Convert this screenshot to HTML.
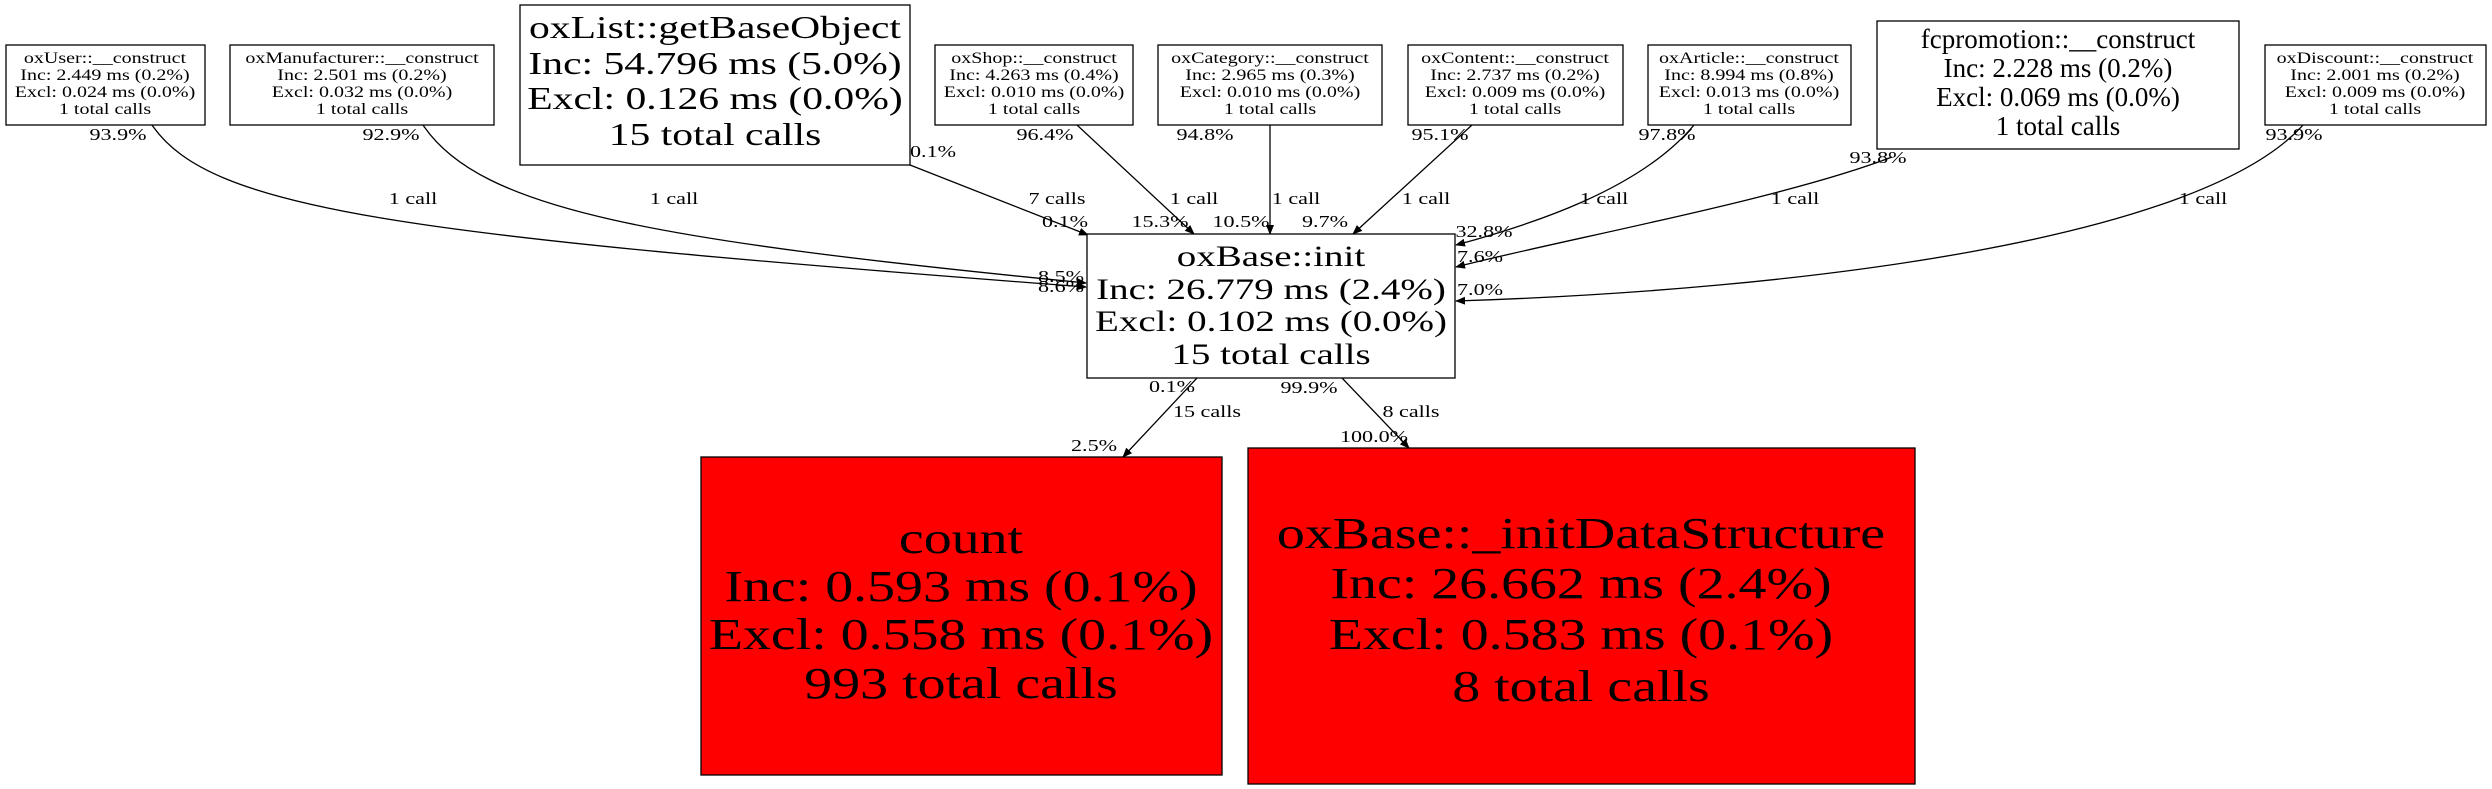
<!DOCTYPE html>
<html><head><meta charset="utf-8"><style>
html,body{margin:0;padding:0;background:#fff;}
svg{display:block;}
text{font-family:"Liberation Serif",serif;fill:#000;}
</style></head><body>
<svg width="2492" height="789" viewBox="0 0 2492 789" xmlns="http://www.w3.org/2000/svg">
<defs><marker id="a" markerWidth="10" markerHeight="8" refX="9" refY="4" orient="auto" markerUnits="userSpaceOnUse"><path d="M0,0 L10,4 L0,8 z" fill="#000"/></marker></defs>
<g fill="none" stroke="#000" stroke-width="1.3" marker-end="url(#a)">
<path d="M152,125 C210,210 400,235 1086,287"/>
<path d="M423,125 C480,210 650,240 1086,283"/>
<path d="M910,165 L1088,235"/>
<path d="M1077,125 L1194,234"/>
<path d="M1270,125 L1270,234"/>
<path d="M1472,125 L1353,234"/>
<path d="M1694,125 C1640,190 1530,225 1456,245"/>
<path d="M1892,157 C1780,200 1560,240 1456,267"/>
<path d="M2303,125 C2200,240 1800,290 1456,301"/>
<path d="M1197,378 L1123,457"/>
<path d="M1342,378 L1409,448"/>
</g>
<g stroke="#000" stroke-width="1.3" fill="#fff">
<rect x="6" y="45" width="199" height="80"/>
<rect x="230" y="45" width="264" height="80"/>
<rect x="520" y="5" width="390" height="160"/>
<rect x="935" y="45" width="198" height="80"/>
<rect x="1158" y="45" width="224" height="80"/>
<rect x="1408" y="45" width="215" height="80"/>
<rect x="1648" y="45" width="203" height="80"/>
<rect x="1877" y="21" width="362" height="128"/>
<rect x="2265" y="45" width="221" height="80"/>
<rect x="1087" y="234" width="368" height="144"/>
<rect x="701" y="457" width="521" height="318" fill="#ff0000"/>
<rect x="1248" y="448" width="667" height="336" fill="#ff0000"/>
</g>
<g text-anchor="middle" font-size="16">
<g transform="translate(105 0) scale(1.25 1)"><text y="63">oxUser::__construct</text><text y="80">Inc: 2.449 ms (0.2%)</text><text y="97">Excl: 0.024 ms (0.0%)</text><text y="114">1 total calls</text></g>
<g transform="translate(362 0) scale(1.25 1)"><text y="63">oxManufacturer::__construct</text><text y="80">Inc: 2.501 ms (0.2%)</text><text y="97">Excl: 0.032 ms (0.0%)</text><text y="114">1 total calls</text></g>
<g transform="translate(1034 0) scale(1.25 1)"><text y="63">oxShop::__construct</text><text y="80">Inc: 4.263 ms (0.4%)</text><text y="97">Excl: 0.010 ms (0.0%)</text><text y="114">1 total calls</text></g>
<g transform="translate(1270 0) scale(1.25 1)"><text y="63">oxCategory::__construct</text><text y="80">Inc: 2.965 ms (0.3%)</text><text y="97">Excl: 0.010 ms (0.0%)</text><text y="114">1 total calls</text></g>
<g transform="translate(1515 0) scale(1.25 1)"><text y="63">oxContent::__construct</text><text y="80">Inc: 2.737 ms (0.2%)</text><text y="97">Excl: 0.009 ms (0.0%)</text><text y="114">1 total calls</text></g>
<g transform="translate(1749 0) scale(1.25 1)"><text y="63">oxArticle::__construct</text><text y="80">Inc: 8.994 ms (0.8%)</text><text y="97">Excl: 0.013 ms (0.0%)</text><text y="114">1 total calls</text></g>
<g transform="translate(2375 0) scale(1.25 1)"><text y="63">oxDiscount::__construct</text><text y="80">Inc: 2.001 ms (0.2%)</text><text y="97">Excl: 0.009 ms (0.0%)</text><text y="114">1 total calls</text></g>
</g>
<g text-anchor="middle" font-size="32" transform="translate(715 0) scale(1.3 1)">
<text y="38">oxList::getBaseObject</text><text y="74">Inc: 54.796 ms (5.0%)</text><text y="109">Excl: 0.126 ms (0.0%)</text><text y="145">15 total calls</text>
</g>
<g text-anchor="middle" font-size="27" transform="translate(2058 0)">
<text y="48">fcpromotion::__construct</text><text y="77">Inc: 2.228 ms (0.2%)</text><text y="106">Excl: 0.069 ms (0.0%)</text><text y="135">1 total calls</text>
</g>
<g text-anchor="middle" font-size="30" transform="translate(1271 0) scale(1.3 1)">
<text y="266">oxBase::init</text><text y="299">Inc: 26.779 ms (2.4%)</text><text y="331">Excl: 0.102 ms (0.0%)</text><text y="364">15 total calls</text>
</g>
<g text-anchor="middle" font-size="44" transform="translate(961 0) scale(1.27 1)">
<text y="553">count</text><text y="601">Inc: 0.593 ms (0.1%)</text><text y="649">Excl: 0.558 ms (0.1%)</text><text y="698">993 total calls</text>
</g>
<g text-anchor="middle" font-size="44" transform="translate(1581 0) scale(1.27 1)">
<text y="548">oxBase::_initDataStructure</text><text y="598">Inc: 26.662 ms (2.4%)</text><text y="649">Excl: 0.583 ms (0.1%)</text><text y="701">8 total calls</text>
</g>
<g text-anchor="middle" font-size="17">
<text transform="translate(118 140) scale(1.3 1)">93.9%</text><text transform="translate(391 140) scale(1.3 1)">92.9%</text><text transform="translate(933 157) scale(1.3 1)">0.1%</text><text transform="translate(1045 140) scale(1.3 1)">96.4%</text>
<text transform="translate(1205 140) scale(1.3 1)">94.8%</text><text transform="translate(1440 140) scale(1.3 1)">95.1%</text><text transform="translate(1667 140) scale(1.3 1)">97.8%</text><text transform="translate(1878 163) scale(1.3 1)">93.8%</text><text transform="translate(2294 140) scale(1.3 1)">93.9%</text>
<text transform="translate(413 204) scale(1.3 1)">1 call</text><text transform="translate(674 204) scale(1.3 1)">1 call</text><text transform="translate(1057 204) scale(1.3 1)">7 calls</text><text transform="translate(1194 204) scale(1.3 1)">1 call</text><text transform="translate(1296 204) scale(1.3 1)">1 call</text><text transform="translate(1426 204) scale(1.3 1)">1 call</text><text transform="translate(1604 204) scale(1.3 1)">1 call</text><text transform="translate(1795 204) scale(1.3 1)">1 call</text><text transform="translate(2203 204) scale(1.3 1)">1 call</text>
<text transform="translate(1065 227) scale(1.3 1)">0.1%</text><text transform="translate(1160 227) scale(1.3 1)">15.3%</text><text transform="translate(1241 227) scale(1.3 1)">10.5%</text><text transform="translate(1325 227) scale(1.3 1)">9.7%</text>
<text transform="translate(1484 237) scale(1.3 1)">32.8%</text><text transform="translate(1480 262) scale(1.3 1)">7.6%</text><text transform="translate(1480 295) scale(1.3 1)">7.0%</text>
<text transform="translate(1061 282) scale(1.3 1)">8.5%</text><text transform="translate(1061 292) scale(1.3 1)">8.6%</text>
<text transform="translate(1172 392) scale(1.3 1)">0.1%</text><text transform="translate(1309 393) scale(1.3 1)">99.9%</text>
<text transform="translate(1207 417) scale(1.3 1)">15 calls</text><text transform="translate(1411 417) scale(1.3 1)">8 calls</text>
<text transform="translate(1094 451) scale(1.3 1)">2.5%</text><text transform="translate(1374 442) scale(1.3 1)">100.0%</text>
</g>
</svg>
</body></html>
